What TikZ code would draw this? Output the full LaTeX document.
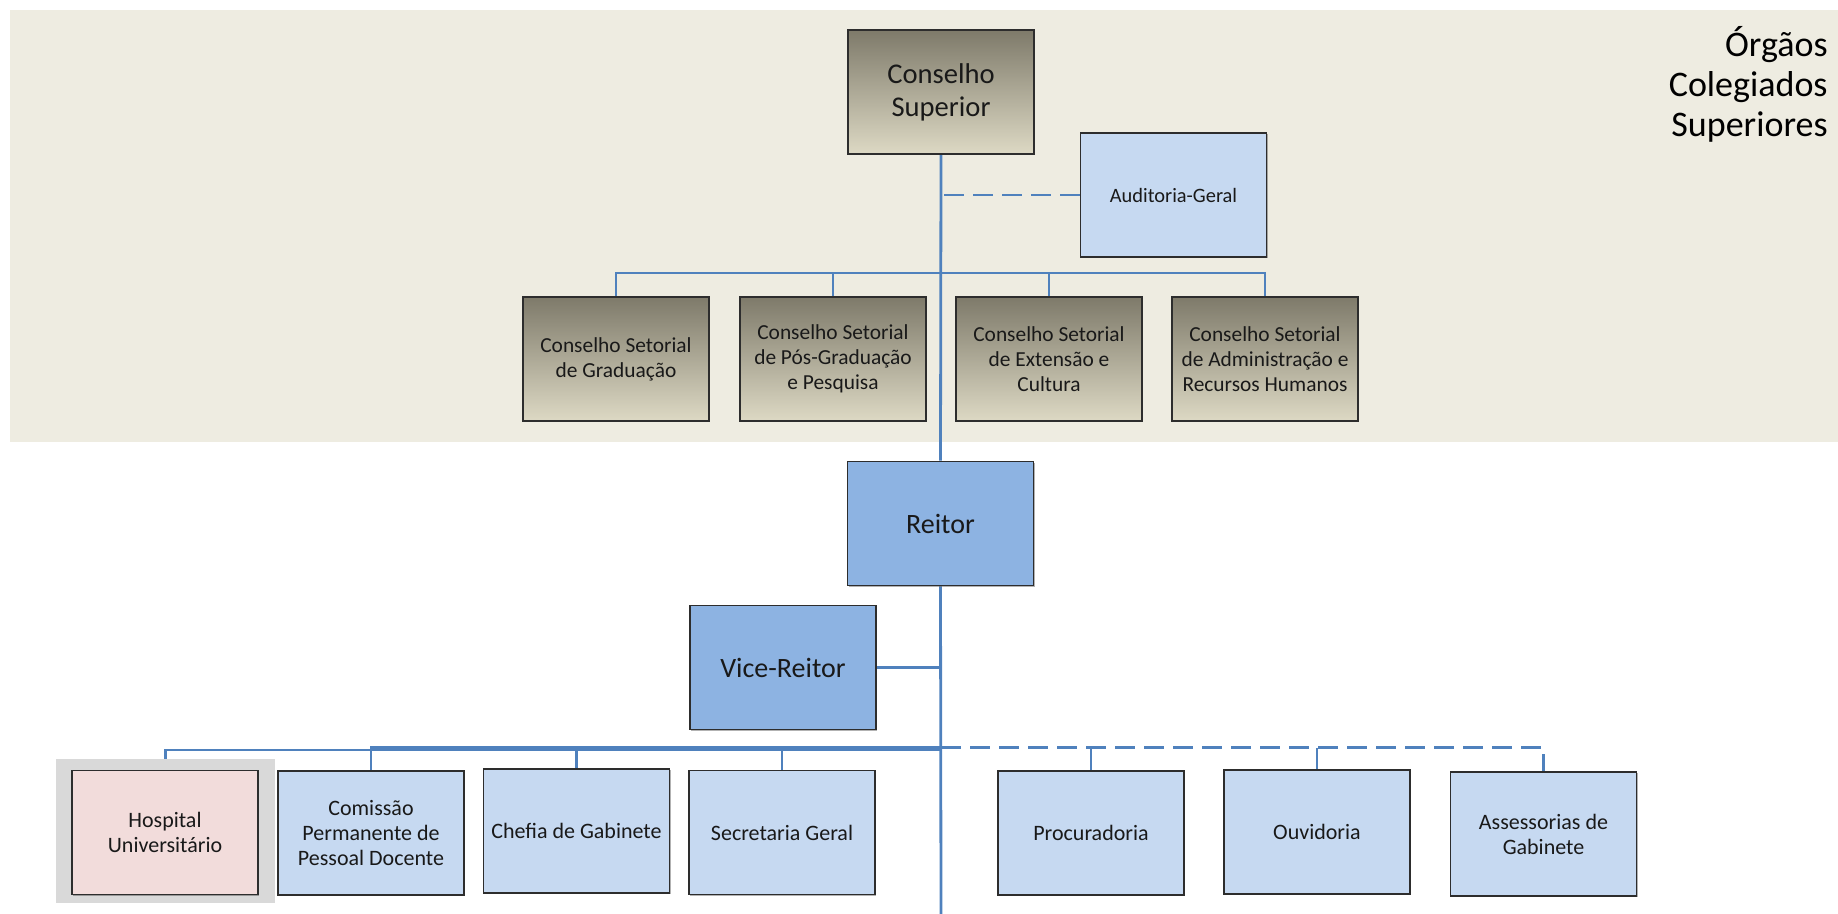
\documentclass[tikz,border=0pt]{standalone}
\usepackage{fontspec}
\setmainfont{Carlito}
\usetikzlibrary{shadows}

\definecolor{band}{RGB}{238,236,225}
\definecolor{linkblue}{RGB}{79,129,189}
\definecolor{lightblue}{RGB}{198,217,241}
\definecolor{midblue}{RGB}{141,179,226}
\definecolor{pinkbox}{RGB}{242,220,219}
\definecolor{olivetop}{RGB}{126,122,106}
\definecolor{olivebot}{RGB}{221,217,196}
\definecolor{hoframe}{RGB}{217,217,217}
\definecolor{edge}{RGB}{45,45,45}

\pgfdeclarelayer{back}
\pgfdeclarelayer{lines}
\pgfsetlayers{back,lines,main}

\tikzset{
  unit/.style={draw=edge, line width=0.9pt, minimum width=93pt, minimum height=62pt,
    inner sep=1pt, align=center, text=black!90,
    drop shadow={shadow xshift=0.7pt, shadow yshift=-0.7pt, opacity=0.3, fill=black}},
  council/.style={unit, top color=olivetop, bottom color=olivebot},
  office/.style={unit, fill=lightblue},
  chief/.style={unit, fill=midblue, font=\fontsize{14}{16.5}\selectfont},
  bigtxt/.style={font=\fontsize{14.3}{16.5}\selectfont},
  settxt/.style={font=\fontsize{10.7}{12.5}\selectfont},
  rowtxt/.style={font=\fontsize{11}{12.5}\selectfont},
  link/.style={draw=linkblue, line width=1.4pt},
  dlink/.style={link, line width=1.2pt, dash pattern=on 10pt off 4.5pt},
}

\begin{document}
\begin{tikzpicture}[x=0.5pt,y=-0.5pt]
\useasboundingbox (0,0) rectangle (1838,914);

% band of the collegiate bodies
\begin{pgfonlayer}{back}
  \fill[band] (10,10) rectangle (1838,442);
\end{pgfonlayer}

\node[align=right, anchor=base east, inner sep=0pt, font=\fontsize{18}{20}\selectfont]
  (title) at (1828,137) {Órgãos\\Colegiados\\Superiores};

% upper councils
\node[council, bigtxt] (cs)    at (941,92)     {Conselho\\Superior};
\node[office, font=\fontsize{10.2}{12.5}\selectfont] (aud) at (1173.5,195) {Auditoria-Geral};
\node[council, settxt] (csg)   at (616,359)    {Conselho Setorial\\de Graduação};
\node[council, settxt] (cspg)  at (833,359)    {Conselho Setorial\\de Pós-Graduação\\e Pesquisa};
\node[council, settxt] (csec)  at (1049,359)   {Conselho Setorial\\de Extensão e\\Cultura};
\node[council, settxt] (csarh) at (1265,359)   {Conselho Setorial\\de Administração e\\Recursos Humanos};

% rectorate
\node[chief] (reitor) at (940.5,523.5) {Reitor};
\node[chief] (vice)   at (783,667.5)   {Vice-Reitor};

% units below the rectorate
\node[fill=hoframe, minimum width=109.5pt, minimum height=72pt, inner sep=0pt] (huframe) at (165.5,831) {};
\node[unit, fill=pinkbox, rowtxt] (hu) at (165,832.5) {Hospital\\Universitário};
\node[office, rowtxt] (cppd)   at (371,833)    {Comissão\\Permanente de\\Pessoal Docente};
\node[office, rowtxt] (chefia) at (576.5,831)  {Chefia de Gabinete};
\node[office, rowtxt] (sec)    at (782,832.5)  {Secretaria Geral};
\node[office, rowtxt] (proc)   at (1091,833)   {Procuradoria};
\node[office, rowtxt] (ouv)    at (1317,832)   {Ouvidoria};
\node[office, rowtxt] (ass)    at (1543.5,834) {Assessorias de\\Gabinete};

\coordinate (cbus) at (941,273);
\coordinate (hbus) at (941,750);
\coordinate (rbus) at (941,747.5);
\coordinate (foot) at (941,914);

\begin{pgfonlayer}{lines}
  % spine
  \draw[link] (cs.south) -- (reitor.north);
  \draw[link] (reitor.south) -- (foot);
  % audit
  \draw[dlink] (aud.west) -- (aud.west -| cs.south);
  % sector councils
  \draw[link] (csg.north) |- (cbus) -| (csarh.north);
  \draw[link] (cspg.north) -- (cspg.north |- cbus);
  \draw[link] (csec.north) -- (csec.north |- cbus);
  % vice-rector
  \draw[link] (vice.east) -- (vice.east -| reitor.south);
  % lower row
  \draw[link] (huframe.north) |- (hbus);
  \draw[link] (cppd.north) |- (rbus);
  \draw[link] (chefia.north) -- (chefia.north |- rbus);
  \draw[link] (sec.north) -- (sec.north |- rbus);
  \draw[dlink] (rbus) -| (ass.north);
  \draw[link] (proc.north) -- (proc.north |- rbus);
  \draw[link] (ouv.north) -- (ouv.north |- rbus);
\end{pgfonlayer}
\end{tikzpicture}
\end{document}
